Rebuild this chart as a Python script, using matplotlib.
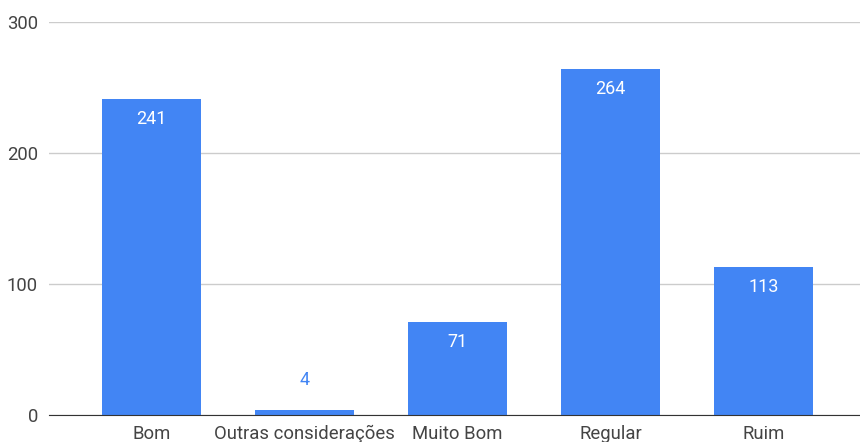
import matplotlib.pyplot as plt
import numpy as np

categorias = ['Bom', 'Outras considerações', 'Muito Bom', 'Regular', 'Ruim']
valores = [241, 4, 71, 264, 113]
ticks_y = [0, 100, 200, 300]

azul = '#4285F4'
cinza = '#444444'

plt.rcParams['font.family'] = ['Roboto', 'DejaVu Sans']

fig = plt.figure(figsize=(8.6, 4.42), dpi=100)
ax = fig.add_axes([49/860, 27/442, 811/860, 393/442])

x = np.arange(len(categorias))
barras = ax.bar(x, valores, width=0.645, color=azul, zorder=3)

ax.set_xlim(-0.67, 4.63)
ax.set_ylim(0, 300)
ax.set_yticks(ticks_y)
ax.set_yticklabels([str(t) for t in ticks_y], fontsize=13.3, color=cinza)
ax.set_xticks(x)
ax.set_xticklabels(categorias, fontsize=13.3, color=cinza)
ax.tick_params(length=0, pad=8)
ax.tick_params(axis='x', pad=7)

ax.grid(axis='y', color='#cccccc', lw=1, zorder=0)
for lado in ['top', 'right', 'left']:
    ax.spines[lado].set_visible(False)
ax.spines['bottom'].set_color('#333333')
ax.spines['bottom'].set_zorder(4)

# rótulos de valor: dentro da barra quando cabe, acima quando não
for b, v in zip(barras, valores):
    cx = b.get_x() + b.get_width() / 2
    if v > 20:
        ax.annotate(str(v), (cx, v), xytext=(0, -8), textcoords='offset points',
                    ha='center', va='top', color='white', fontsize=13, zorder=5)
    else:
        ax.annotate(str(v), (cx, v), xytext=(0, 15), textcoords='offset points',
                    ha='center', va='bottom', color=azul, fontsize=13, zorder=5)

fig.savefig('out.png', dpi=100)
